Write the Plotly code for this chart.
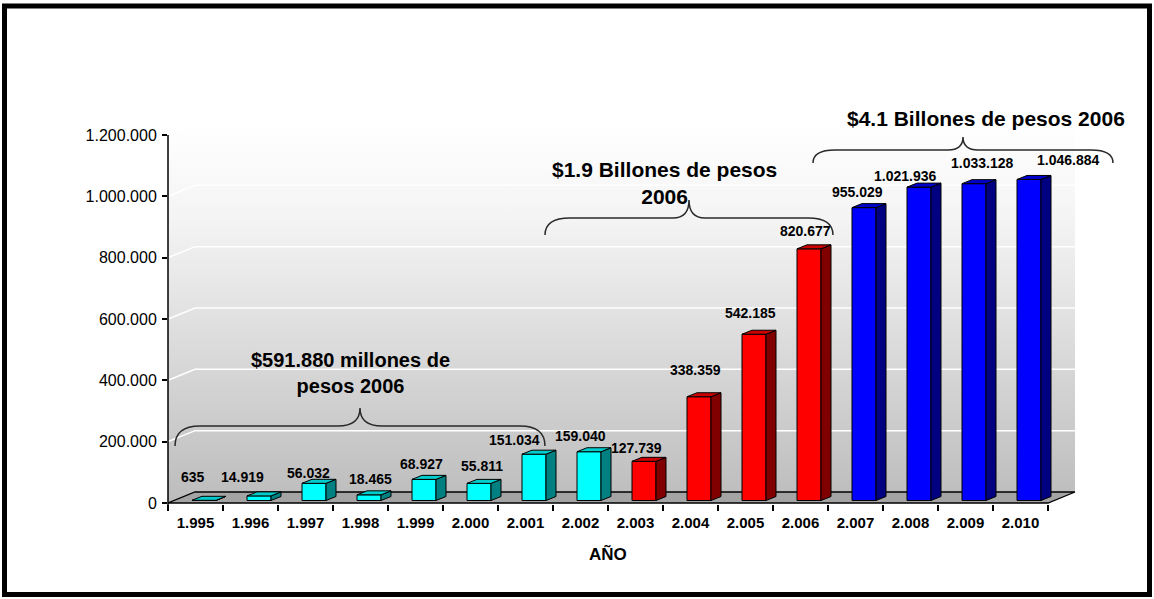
import plotly.graph_objects as go

# ---------------- data ----------------
YEARS = ["1.995", "1.996", "1.997", "1.998", "1.999", "2.000", "2.001", "2.002",
         "2.003", "2.004", "2.005", "2.006", "2.007", "2.008", "2.009", "2.010"]
VALUES = [635, 14919, 56032, 18465, 68927, 55811, 151034, 159040,
          127739, 338359, 542185, 820677, 955029, 1021936, 1033128, 1046884]
COLOR_GROUP = [0] * 8 + [1] * 4 + [2] * 4
Y_TICKS = [0, 200000, 400000, 600000, 800000, 1000000, 1200000]
Y_TICK_LABELS = ["0", "200.000", "400.000", "600.000", "800.000", "1.000.000", "1.200.000"]
X_TITLE = "AÑO"
BRACE_TEXTS = ["$591.880 millones de<br>pesos 2006",
               "$1.9 Billones de pesos<br>2006",
               "$4.1 Billones de pesos 2006"]

# ---------------- style ----------------
FONT = "Arial, Liberation Sans, sans-serif"
FRONT = ["#00FFFF", "#FF0000", "#0000FF"]
SIDE = ["#008080", "#800000", "#000080"]
TOPC = ["#00CCCC", "#CC0000", "#0000CC"]
# label nudges in pixels (x right, y up from bar top)
LABEL_DX = [-2.5, -8, 2.5, 9.5, 5.5, 11.5, -11.5, -0.5, 0.5, 4.5, 4.5, 4.5, 2, -6, 16.5, 47.5]
LABEL_DY = [26, 21, 13, 18, 18, 20, 17, 18, 16, 29, 24, 20, 18, 14, 23, 22]

W, H = 1154, 599
PL, PR, PT, PB = 168, 1154, 100, 504   # plot area in pixels
CAT_PX = 55.0                           # pixels per category
ZERO_PX = 503.0                         # pixel row of value 0
UNIT_PX = 368.0 / 1.2e6                 # pixels per value unit

N = len(VALUES)
XMIN = -0.5
XMAX = XMIN + (PR - PL) / CAT_PX
YMIN = -(PB - ZERO_PX) / UNIT_PX
YMAX = (ZERO_PX - PT) / UNIT_PX
TOP = Y_TICKS[-1]


def hx(px):  # horizontal pixel distance -> x units
    return px / CAT_PX


def vy(px):  # vertical pixel distance -> value units
    return px / UNIT_PX


def X(px):
    return XMIN + (px - PL) / CAT_PX


def Y(py):
    return (ZERO_PX - py) / UNIT_PX


def paper_x(px):
    return (px - PL) / (PR - PL)


def paper_y(py):
    return (PB - py) / (PB - PT)


def paper_y_val(v):
    return (v - YMIN) / (YMAX - YMIN)


X0, X1 = -0.5, N - 0.5
FDX, FDY = hx(27), vy(11)          # floor / wall depth
BOFF, BW = hx(-3.5), hx(24)        # bar front offset and width
BDX, BDY = hx(10), vy(4)           # bar depth
BASE = vy(2.5)

fig = go.Figure()

# ---- back & side wall with vertical gradient ----
fig.add_trace(go.Scatter(
    x=[X0, X0, X0 + FDX, X1 + FDX, X1 + FDX, X0 + FDX, X0],
    y=[0, TOP, TOP + FDY, TOP + FDY, FDY, FDY, 0],
    mode="lines", line=dict(width=0), fill="toself",
    fillgradient=dict(type="vertical", start=0, stop=TOP + FDY,
                      colorscale=[[0, "#bcbcbc"], [0.75, "#f4f4f4"], [1, "#ffffff"]]),
    hoverinfo="skip", showlegend=False))

# ---- gridlines on walls ----
gx, gy = [], []
for t in Y_TICKS[1:]:
    gx += [X0, X0 + FDX, X1 + FDX, None]
    gy += [t, t + FDY, t + FDY, None]
fig.add_trace(go.Scatter(x=gx, y=gy, mode="lines", line=dict(color="white", width=1.5),
                         hoverinfo="skip", showlegend=False))

# ---- floor ----
fig.add_trace(go.Scatter(
    x=[X0, X1, X1 + FDX, X0 + FDX, X0], y=[0, 0, FDY, FDY, 0],
    mode="lines", line=dict(color="black", width=1.3), fill="toself", fillcolor="#a4a4a4",
    hoverinfo="skip", showlegend=False))

# ---- bars (front faces) on overlay axes ----
fig.add_trace(go.Bar(
    x=list(range(N)), y=VALUES, base=BASE, offset=BOFF, width=BW,
    marker=dict(color=[FRONT[g] for g in COLOR_GROUP], line=dict(color="black", width=1)),
    xaxis="x2", yaxis="y2", hoverinfo="skip", showlegend=False))

# ---- bar side and top faces ----
for g in range(3):
    sx, sy, tx, ty = [], [], [], []
    for i, v in enumerate(VALUES):
        if COLOR_GROUP[i] != g:
            continue
        xl = i + BOFF
        xr = xl + BW
        b, t = BASE, BASE + v
        sx += [xr, xr + BDX, xr + BDX, xr, xr, None]
        sy += [b, b + BDY, t + BDY, t, b, None]
        tx += [xl, xl + BDX, xr + BDX, xr, xl, None]
        ty += [t, t + BDY, t + BDY, t, t, None]
    fig.add_trace(go.Scatter(x=sx, y=sy, mode="lines", fill="toself", fillcolor=SIDE[g],
                             line=dict(color="black", width=1), xaxis="x2", yaxis="y2",
                             hoverinfo="skip", showlegend=False))
    fig.add_trace(go.Scatter(x=tx, y=ty, mode="lines", fill="toself", fillcolor=TOPC[g],
                             line=dict(color="black", width=1), xaxis="x2", yaxis="y2",
                             hoverinfo="skip", showlegend=False))

annotations = []
# ---- value labels ----
for i, v in enumerate(VALUES):
    annotations.append(dict(
        x=i, y=v, xref="x", yref="y", text=f"{v:,}".replace(",", "."),
        showarrow=False, xanchor="center", yanchor="middle",
        xshift=LABEL_DX[i], yshift=LABEL_DY[i],
        font=dict(family=FONT, size=14, color="black", weight="bold")))

# ---- braces ----
BRACES = [
    dict(x0=175, x1=545, xm=360, ye=446, yl=426, yt=408, r=25, r2=22, tx=350, ty=373),
    dict(x0=545, x1=833, xm=689, ye=235, yl=218, yt=200, r=25, r2=16, tx=664, ty=183),
    dict(x0=813, x1=1113, xm=963, ye=163, yl=150, yt=137, r=22, r2=15, tx=986, ty=118),
]
shapes = []
for k, b in enumerate(BRACES):
    def P(px, py):
        return f"{X(px):.5f},{Y(py):.2f}"
    path = ("M " + P(b["x0"], b["ye"]) +
            " Q " + P(b["x0"], b["yl"]) + " " + P(b["x0"] + b["r"], b["yl"]) +
            " L " + P(b["xm"] - b["r2"], b["yl"]) +
            " Q " + P(b["xm"], b["yl"]) + " " + P(b["xm"], b["yt"]) +
            " Q " + P(b["xm"], b["yl"]) + " " + P(b["xm"] + b["r2"], b["yl"]) +
            " L " + P(b["x1"] - b["r"], b["yl"]) +
            " Q " + P(b["x1"], b["yl"]) + " " + P(b["x1"], b["ye"]))
    shapes.append(dict(type="path", path=path, xref="x", yref="y", layer="above",
                       line=dict(color="#2a2a2a", width=1.5)))
    annotations.append(dict(
        x=X(b["tx"]), y=Y(b["ty"]), xref="x", yref="y", text=BRACE_TEXTS[k],
        showarrow=False, xanchor="center", yanchor="middle", align="center",
        font=dict(family=FONT, size=21 if k > 0 else 20, color="black", weight="bold")))

# ---- x axis title ----
annotations.append(dict(
    x=(N - 1) / 2, y=paper_y(554), xref="x", yref="paper", text=X_TITLE,
    showarrow=False, xanchor="center", yanchor="middle",
    font=dict(family=FONT, size=17, color="black", weight="bold")))

# ---- y axis line ----
shapes.append(dict(type="line", xref="paper", yref="paper",
                   x0=0, x1=0, y0=paper_y_val(-vy(2)), y1=paper_y_val(TOP),
                   line=dict(color="black", width=1.5), layer="above"))
# ---- outer frame ----
shapes.append(dict(type="rect", xref="paper", yref="paper",
                   x0=paper_x(4.5), x1=paper_x(1149.5), y0=paper_y(594.5), y1=paper_y(6),
                   line=dict(color="black", width=5), fillcolor="rgba(0,0,0,0)", layer="above"))

fig.update_layout(
    width=W, height=H, template="none",
    margin=dict(l=PL, r=W - PR, t=PT, b=H - PB, pad=0, autoexpand=False),
    paper_bgcolor="white", plot_bgcolor="rgba(0,0,0,0)",
    showlegend=False, barmode="overlay",
    xaxis=dict(range=[XMIN, XMAX], tickmode="array", tickvals=list(range(N)), ticktext=YEARS,
               ticks="", showgrid=False, zeroline=False, showline=False, automargin=False,
               fixedrange=True, ticklabelstandoff=8,
               tickfont=dict(family=FONT, size=15, color="black", weight="bold"),
               minor=dict(tickmode="array", tickvals=[i - 0.5 for i in range(N + 1)],
                          ticks="outside", ticklen=6, tickwidth=1.5, tickcolor="black",
                          showgrid=False)),
    yaxis=dict(range=[YMIN, YMAX], tickmode="array", tickvals=Y_TICKS, ticktext=Y_TICK_LABELS,
               ticks="outside", ticklen=5, tickwidth=1.5, tickcolor="black",
               showgrid=False, zeroline=False, showline=False, automargin=False,
               fixedrange=True, ticklabelstandoff=2,
               tickfont=dict(family=FONT, size=16, color="black")),
    xaxis2=dict(overlaying="x", anchor="y2", range=[XMIN, XMAX], visible=False, fixedrange=True),
    yaxis2=dict(overlaying="y", anchor="x2", range=[YMIN, YMAX], visible=False, fixedrange=True),
    shapes=shapes, annotations=annotations,
)

fig.write_html("out.html")
